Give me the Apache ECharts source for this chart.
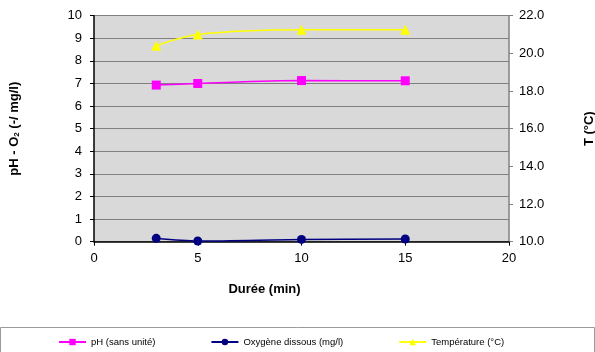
<!DOCTYPE html>
<html><head><meta charset="utf-8">
<script src="https://cdn.jsdelivr.net/npm/echarts@6/dist/echarts.min.js"></script>
<style>html,body{margin:0;padding:0;background:#fff;overflow:hidden}#c{width:595px;height:352px}</style>
</head><body><div id="c"></div>
<script>
const durations = [3, 5, 10, 15];
const phValues = [6.93, 7.0, 7.13, 7.12];
const oxygenValues = [0.15, 0.03, 0.1, 0.12];
const temperatureValues = [20.4, 21.0, 21.25, 21.25];
const seriesNames = ['pH (sans unité)', 'Oxygène dissous (mg/l)', 'Température (°C)'];

const font = '"Liberation Sans", Arial, sans-serif';
const chart = echarts.init(document.getElementById('c'), null, {renderer: 'canvas'});
const pair = (xs, ys) => xs.map((x, i) => [x, ys[i]]);
const titleStyle = {fontFamily: font, fontSize: 13, fontWeight: 'bold', color: '#000'};

chart.setOption({
  animation: false,
  textStyle: {fontFamily: font},
  graphic: [{
    type: 'rect', left: 0, top: 327, z: -1,
    shape: {width: 594, height: 40},
    style: {fill: '#fff', stroke: '#9a9a9a', lineWidth: 1}
  }],
  grid: {left: 94, right: 86, top: 15.7, bottom: 110.3, show: true, backgroundColor: '#d9d9d9', borderWidth: 0, outerBoundsMode: 'none', containLabel: false},
  legend: {
    left: 58, top: 337, padding: 0, itemGap: 55, itemWidth: 27, itemHeight: 8,
    textStyle: {fontFamily: font, fontSize: 9.5, color: '#000'},
    data: seriesNames
  },
  xAxis: {
    type: 'value', min: 0, max: 20, interval: 5,
    name: 'Durée (min)', nameLocation: 'middle', nameGap: 41,
    nameTextStyle: Object.assign({}, titleStyle, {padding: [0, 74, 0, 0]}),
    axisLine: {show: true, lineStyle: {color: '#000', width: 1.5}},
    axisTick: {show: true, length: 4, lineStyle: {color: '#000'}},
    axisLabel: {fontFamily: font, fontSize: 13, color: '#000', margin: 10},
    splitLine: {show: false}
  },
  yAxis: [{
    type: 'value', min: 0, max: 10, interval: 1, position: 'left',
    name: 'pH - O{sub|2} (-/ mg/l)', nameLocation: 'middle', nameGap: 73, nameRotate: 90,
    nameTextStyle: Object.assign({}, titleStyle, {
      rich: {sub: {fontFamily: font, fontSize: 8, fontWeight: 'bold', color: '#000', padding: [6, 0, 0, 0]}}
    }),
    axisLine: {show: true, lineStyle: {color: '#000', width: 1.5}},
    axisTick: {show: true, length: 4, lineStyle: {color: '#000'}},
    axisLabel: {fontFamily: font, fontSize: 13, color: '#000', margin: 12},
    splitLine: {show: true, lineStyle: {color: '#808080', width: 1}}
  }, {
    type: 'value', min: 10, max: 22, interval: 2, position: 'right',
    name: 'T (°C)', nameLocation: 'middle', nameGap: 74, nameRotate: 90,
    nameTextStyle: titleStyle,
    axisLine: {show: true, lineStyle: {color: '#808080', width: 1.5}},
    axisTick: {show: true, length: 4, lineStyle: {color: '#808080'}},
    axisLabel: {fontFamily: font, fontSize: 13, color: '#000', margin: 10, formatter: v => v.toFixed(1)},
    splitLine: {show: false}
  }],
  series: [{
    name: seriesNames[0], type: 'line', yAxisIndex: 0, smooth: 0.3,
    data: pair(durations, phValues),
    symbol: 'rect', symbolSize: 9,
    lineStyle: {color: '#ff00ff', width: 1.5}, itemStyle: {color: '#ff00ff'}
  }, {
    name: seriesNames[1], type: 'line', yAxisIndex: 0, smooth: 0.3,
    data: pair(durations, oxygenValues),
    symbol: 'circle', symbolSize: 9,
    lineStyle: {color: '#000080', width: 1.5}, itemStyle: {color: '#000080'}
  }, {
    name: seriesNames[2], type: 'line', yAxisIndex: 1, smooth: 0.3,
    data: pair(durations, temperatureValues),
    symbol: 'triangle', symbolSize: 10,
    lineStyle: {color: '#ffff00', width: 1.5}, itemStyle: {color: '#ffff00'}
  }]
});
</script></body></html>
